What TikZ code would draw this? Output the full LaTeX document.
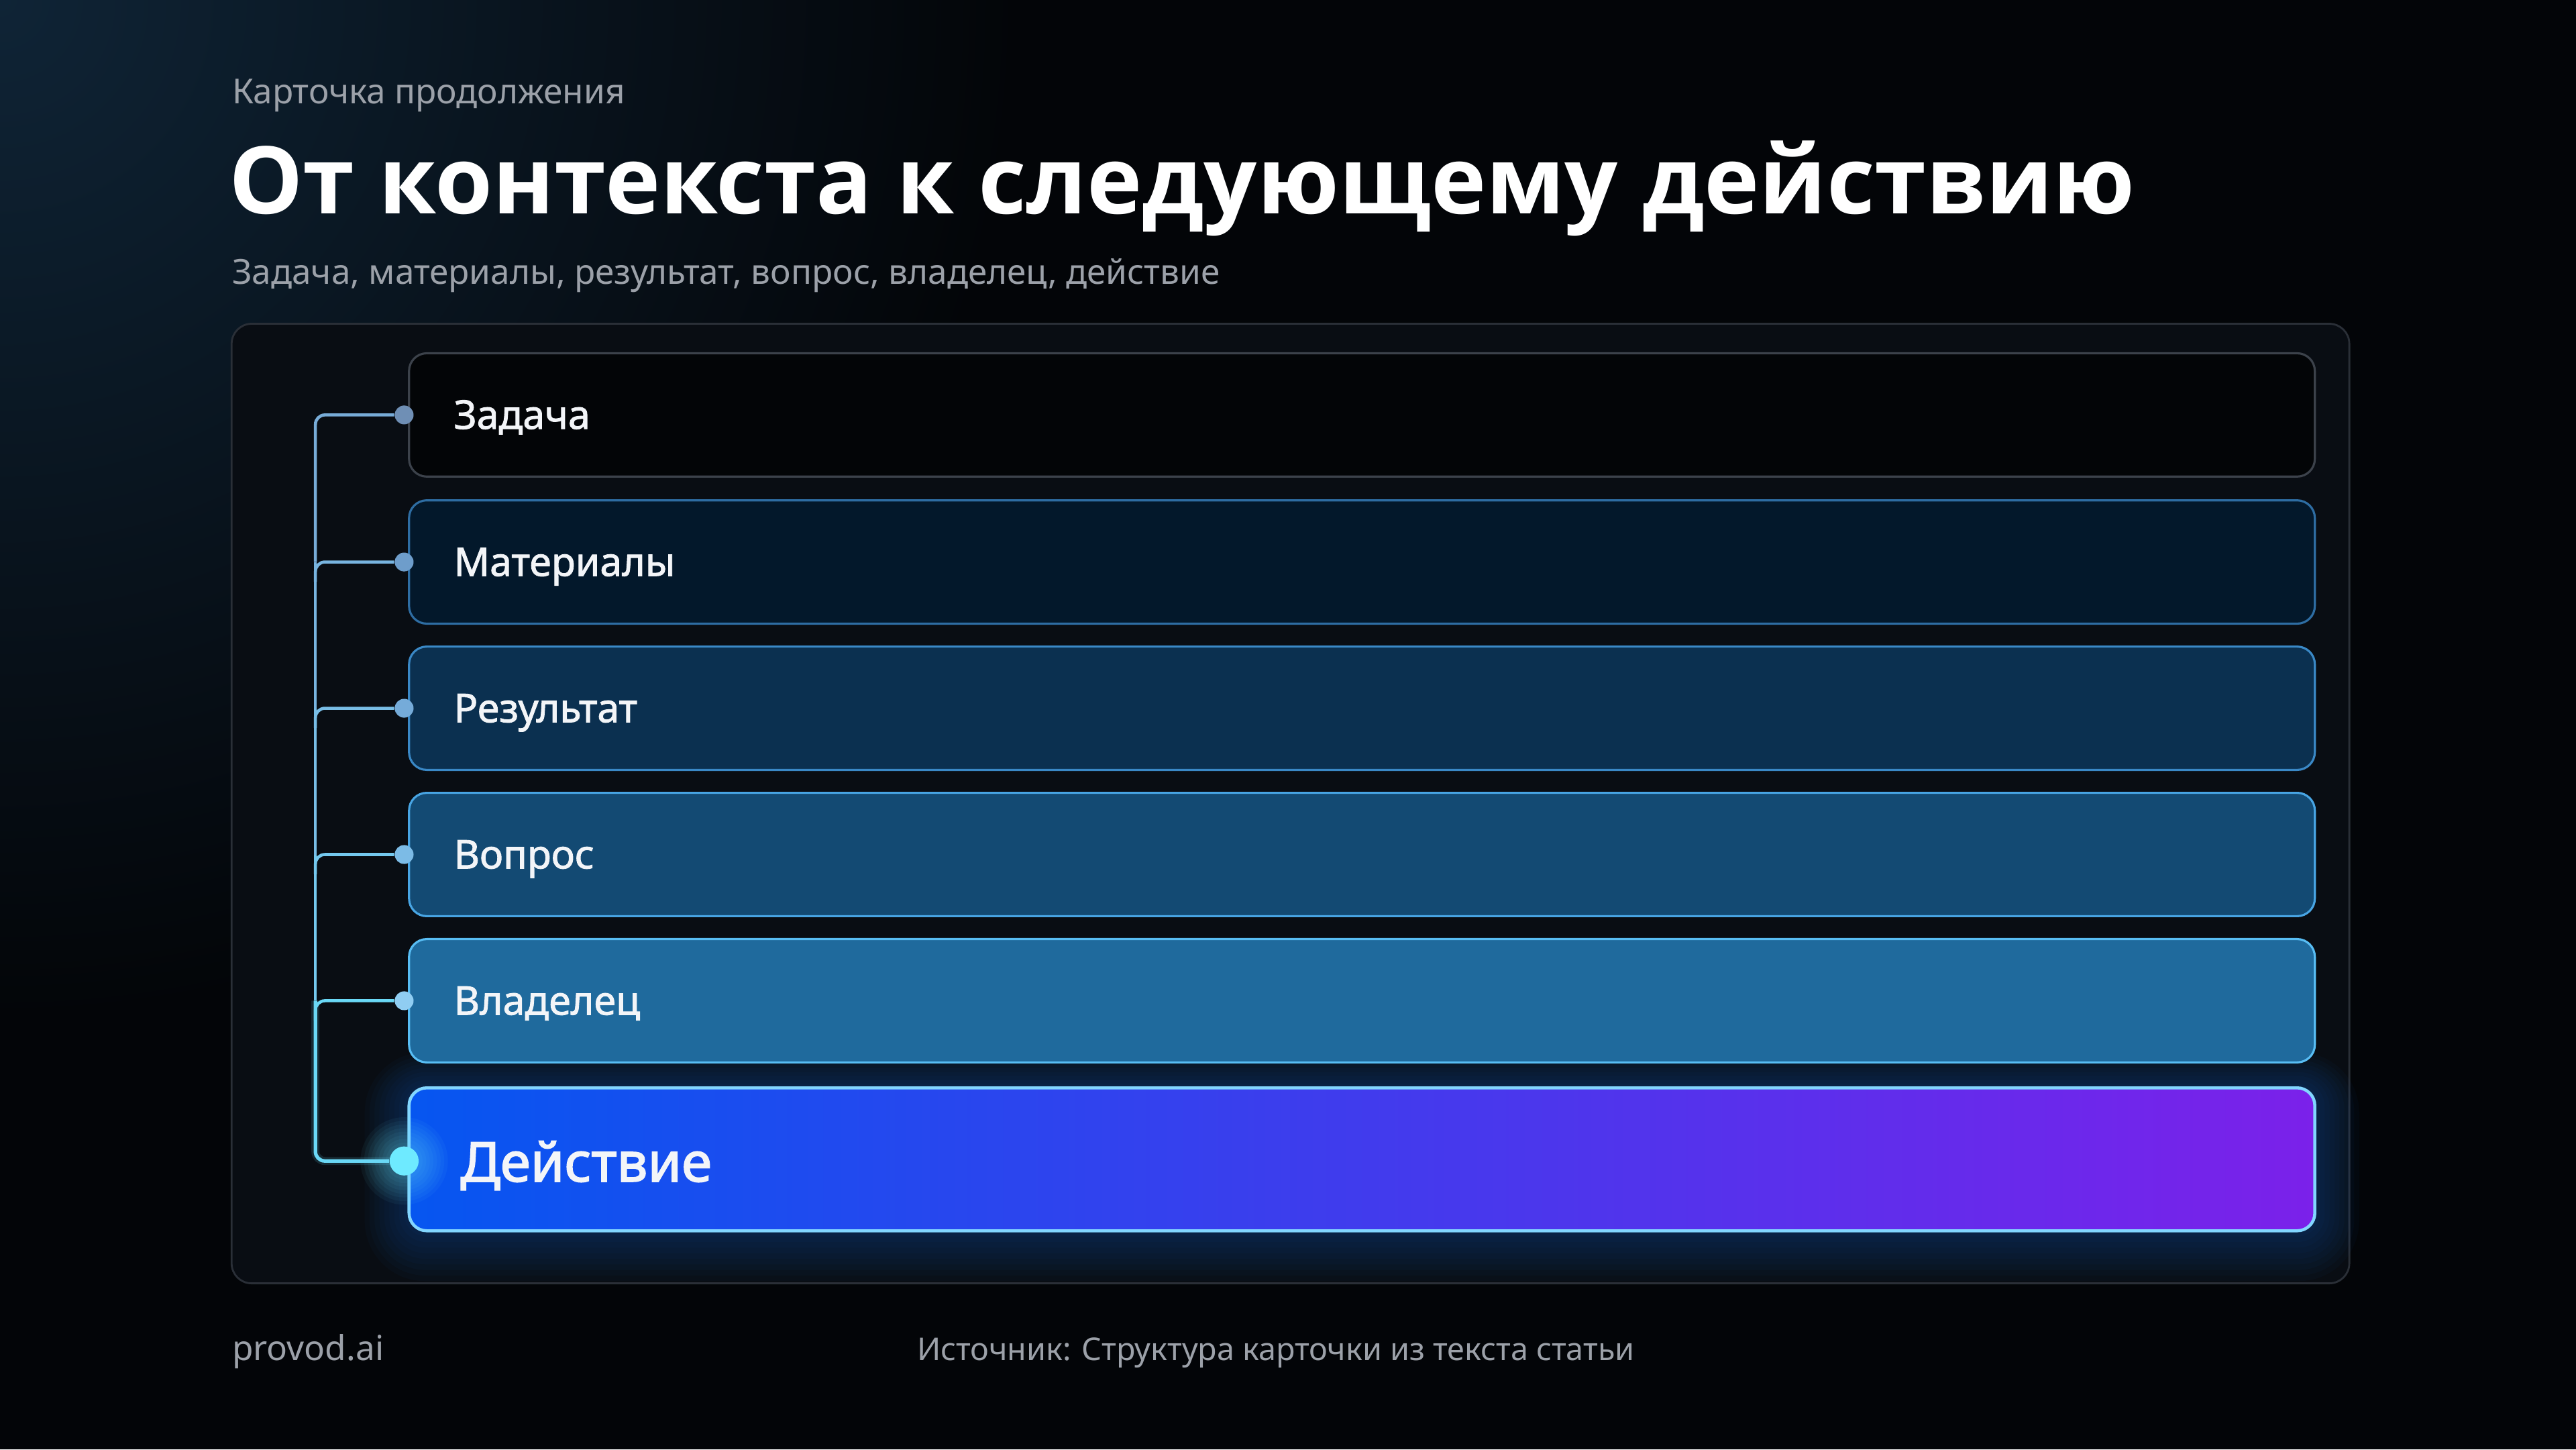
\documentclass[tikz,border=0pt]{standalone}
\usepackage{fontspec}
\setmainfont{Noto Sans}
\newfontfamily\headfont{Open Sans}
\newfontfamily\semifont{Noto Sans}[FakeBold=1.6]
\newfontfamily\actfont{Noto Sans}[FakeBold=2.2]
\usetikzlibrary{calc}
\definecolor{bg}{HTML}{030508}
\definecolor{glowc}{HTML}{0F2436}
\definecolor{panelfill}{HTML}{090D13}
\definecolor{panelline}{HTML}{2A2F37}
\definecolor{greytext}{HTML}{9CA1A9}
\definecolor{labelc}{HTML}{F3F5F8}
\definecolor{rfA}{HTML}{030507}\definecolor{rlA}{HTML}{3C424B}
\definecolor{rfB}{HTML}{03182B}\definecolor{rlB}{HTML}{2E6DA3}
\definecolor{rfC}{HTML}{0B3050}\definecolor{rlC}{HTML}{3A88C6}
\definecolor{rfD}{HTML}{134A73}\definecolor{rlD}{HTML}{48A5E4}
\definecolor{rfE}{HTML}{1F6A9D}\definecolor{rlE}{HTML}{58BDF4}
\definecolor{actL}{HTML}{0656F0}\definecolor{actM}{HTML}{3A3CEE}\definecolor{actR}{HTML}{7B21EA}
\definecolor{rlF}{HTML}{82D6FF}
\definecolor{dA}{HTML}{6F8FB5}\definecolor{dB}{HTML}{6E9DCB}
\definecolor{dC}{HTML}{75ABD9}\definecolor{dD}{HTML}{7CBBE6}
\definecolor{dE}{HTML}{90CDF2}\definecolor{dF}{HTML}{6EEAFF}
\definecolor{lkA}{HTML}{78ACD8}\definecolor{lkB}{HTML}{78B4E0}
\definecolor{lkC}{HTML}{78BDE6}\definecolor{lkD}{HTML}{74C8EE}
\definecolor{lkE}{HTML}{6AD8F6}
\definecolor{glowblue}{HTML}{1C6AD8}
\tikzset{
  rowbox/.style={rounded corners=7.5pt, minimum width=808.3pt, minimum height=52.3pt, line width=0.9pt, inner sep=0pt},
  dotnode/.style={circle, inner sep=0pt, minimum size=8pt},
  lbl/.style={anchor=base west, inner sep=0pt, text=labelc, font=\semifont\fontsize{16.8}{19}\selectfont},
  link/.style={line width=1.3pt, rounded corners=4pt},
  txt/.style={anchor=base west, inner sep=0pt},
}
\begin{document}
\begin{tikzpicture}[x=0.6968pt,y=-0.6968pt]
\useasboundingbox (0,0) rectangle (1568,882);
% background
\fill[bg] (0,0) rectangle (1568,882);
\begin{scope}
\clip (0,0) rectangle (1568,882);
\shade[inner color=glowc, outer color=bg] (0,0) circle (620);
\end{scope}
% headings
\node[txt, text=greytext, font=\fontsize{14.6}{17}\selectfont] (over) at (141,63) {Карточка продолжения};
\node[txt, text=white, font=\headfont\bfseries\fontsize{39.6}{47}\selectfont] (title) at (139,130) {От контекста к следующему действию};
\node[txt, text=greytext, font=\fontsize{14.6}{17}\selectfont] (sub) at (141,173) {Задача, материалы, результат, вопрос, владелец, действие};
% panel
\node[draw=panelline, fill=panelfill, rounded corners=8.5pt, line width=0.8pt, minimum width=898.2pt, minimum height=406.9pt, inner sep=0pt] (panel) at (785.5,489) {};
% glow of action row
\foreach \g in {1,...,9}{
  \fill[glowblue, opacity=0.035, rounded corners=7.5pt+\g*2pt] ($(249-\g*3,662-\g*2.4)$) rectangle ($(1409+\g*3,749+\g*3.4)$);
}
% rows
\node[rowbox, fill=rfA, draw=rlA] (r1) at (829,252.5) {};
\node[rowbox, fill=rfB, draw=rlB] (r2) at (829,342) {};
\node[rowbox, fill=rfC, draw=rlC] (r3) at (829,431) {};
\node[rowbox, fill=rfD, draw=rlD] (r4) at (829,520) {};
\node[rowbox, fill=rfE, draw=rlE] (r5) at (829,609) {};
\node[rowbox, left color=actL, middle color=actM, right color=actR, draw=rlF, line width=1.3pt, minimum height=60.6pt] (r6) at (829,705.5) {};
% labels
\node[lbl] (l1) at (276,261) {Задача};
\node[lbl] (l2) at (276,350.5) {Материалы};
\node[lbl] (l3) at (276,439.5) {Результат};
\node[lbl] (l4) at (276,528.5) {Вопрос};
\node[lbl] (l5) at (276,617.5) {Владелец};
\node[lbl, font=\actfont\fontsize{23.2}{26}\selectfont] (l6) at (280,719) {Действие};
% bus coordinates
\coordinate (b1) at (192,252.5);
\coordinate (b2) at (192,342);
\coordinate (b3) at (192,431);
\coordinate (b4) at (192,520);
\coordinate (b5) at (192,609);
\coordinate (b6) at (192,706.5);
% dots
\node[dotnode, fill=dA] (d1) at (246,252.5) {};
\node[dotnode, fill=dB] (d2) at (246,342) {};
\node[dotnode, fill=dC] (d3) at (246,431) {};
\node[dotnode, fill=dD] (d4) at (246,520) {};
\node[dotnode, fill=dE] (d5) at (246,609) {};
% connectors
\draw[link, lkA] (d1) -- (b1) -- (b2);
\draw[link, lkB] (d2) -- (b2) -- ($(b2)+(0,12)$);
\draw[link, lkB] (b2) -- (b3);
\draw[link, lkC] (d3) -- (b3) -- ($(b3)+(0,12)$);
\draw[link, lkC] (b3) -- (b4);
\draw[link, lkD] (d4) -- (b4) -- ($(b4)+(0,12)$);
\draw[link, lkD] (b4) -- (b5);
\draw[link, lkE] (d5) -- (b5) -- ($(b5)+(0,12)$);
% glow of final dot and bottom link
\foreach \g in {1,...,8}{
  \fill[dF, opacity=0.05] (246,706.5) circle (9+\g*2.2);
}
\draw[link, lkE, line width=3.4pt, opacity=0.15] (b5) -- (b6) -- (246,706.5);
\node[dotnode, fill=dF, minimum size=12.3pt] (d6) at (246,706.5) {};
\draw[link, lkE, line width=1.5pt] (b5) -- (b6) -- (d6);
% footer
\node[txt, text=greytext, font=\fontsize{14.6}{17}\selectfont] (brand) at (141,828) {provod.ai};
\node[txt, text=greytext, font=\fontsize{13.3}{16}\selectfont] (src) at (558,828) {Источник: Структура карточки из текста статьи};
\end{tikzpicture}
\end{document}
